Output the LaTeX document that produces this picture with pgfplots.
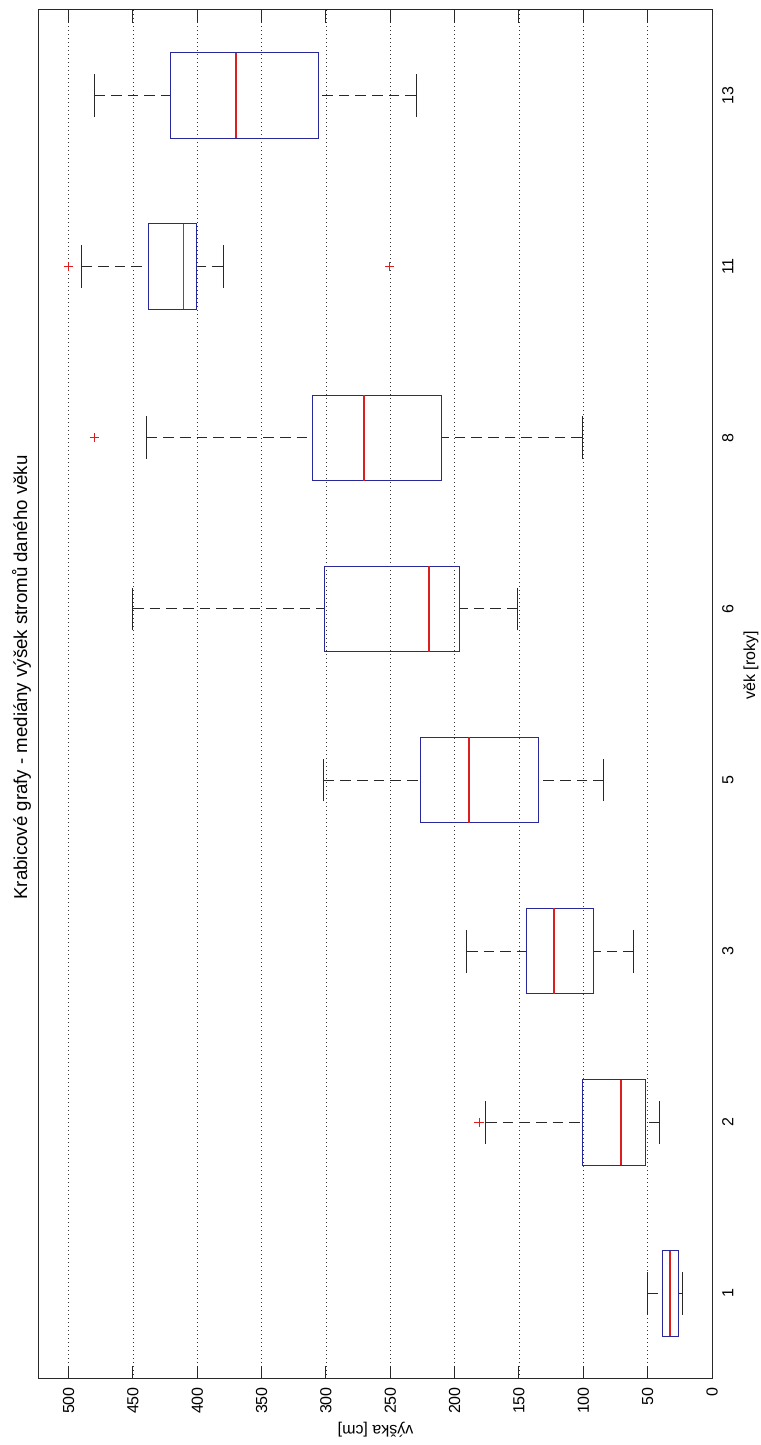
\documentclass[border=0pt,12pt]{standalone}
\usepackage{fontspec}
\setmainfont{Liberation Sans}
\usepackage{pgfplots}
\pgfplotsset{compat=1.18}
\usepgfplotslibrary{statistics}
\definecolor{boxblue}{RGB}{40,40,155}
\definecolor{medred}{RGB}{220,30,30}
\definecolor{axgray}{RGB}{40,40,40}
\begin{document}
\begin{tikzpicture}
\begin{axis}[
  scale only axis, width=504.75pt, height=1026.75pt,
  xmin=0, xmax=523, ymin=0.5, ymax=8.5,
  x dir=reverse,
  xtick={0,50,...,500},
  ytick={1,...,8},
  yticklabels={1,2,3,5,6,8,11,13},
  yticklabel pos=right,
  ytick style={draw=none},
  major tick length=10pt,
  tick align=inside,
  xticklabel style={rotate=90, anchor=east},
  yticklabel style={rotate=90, anchor=north},
  xticklabel shift=2pt, yticklabel shift=3.5pt,
  xmajorgrids,
  grid style={dash pattern=on 0.75pt off 2.25pt, black!80},
  axis line style={axgray, line width=0.75pt},
  tick style={axgray, line width=0.75pt},
  /pgf/number format/assume math mode=true,
  boxplot/draw direction=x,
  boxplot/box extend=0.5,
  boxplot/whisker extend=0.25,
  boxplot/every box/.style={draw=boxblue, line width=0.75pt},
  boxplot/draw/median/.code={%
    \draw[medred, line width=1.25pt]
      (boxplot box cs:\pgfplotsboxplotvalue{median},0) --
      (boxplot box cs:\pgfplotsboxplotvalue{median},1);
  },
  boxplot/draw/lower whisker/.code={%
    \draw[axgray, line width=0.75pt, dash pattern=on 8pt off 4.5pt]
      (boxplot box cs:\pgfplotsboxplotvalue{lower whisker},0.5) --
      (boxplot box cs:\pgfplotsboxplotvalue{lower quartile},0.5);
    \draw[axgray, line width=0.75pt]
      (boxplot whisker cs:\pgfplotsboxplotvalue{lower whisker},0) --
      (boxplot whisker cs:\pgfplotsboxplotvalue{lower whisker},1);
  },
  boxplot/draw/upper whisker/.code={%
    \draw[axgray, line width=0.75pt, dash pattern=on 8pt off 4.5pt]
      (boxplot box cs:\pgfplotsboxplotvalue{upper whisker},0.5) --
      (boxplot box cs:\pgfplotsboxplotvalue{upper quartile},0.5);
    \draw[axgray, line width=0.75pt]
      (boxplot whisker cs:\pgfplotsboxplotvalue{upper whisker},0) --
      (boxplot whisker cs:\pgfplotsboxplotvalue{upper whisker},1);
  },
]
% věk 1
\addplot[boxplot prepared={draw position=1, median=32.7, upper quartile=38.1, lower quartile=25.7, upper whisker=50.5, lower whisker=22.6}] coordinates {};
% věk 2
\addplot[boxplot prepared={draw position=2, median=70.8, upper quartile=101, lower quartile=51.3, upper whisker=175.7, lower whisker=41}] coordinates {};
% věk 3
\addplot[boxplot prepared={draw position=3, median=122.9, upper quartile=143.9, lower quartile=91.8, upper whisker=190.5, lower whisker=60.7}] coordinates {};
% věk 5
\addplot[boxplot prepared={draw position=4, median=189, upper quartile=226.3, lower quartile=134.5, upper whisker=301.7, lower whisker=84}] coordinates {};
% věk 6
\addplot[boxplot prepared={draw position=5, median=220, upper quartile=301, lower quartile=196, upper whisker=450, lower whisker=151}] coordinates {};
% věk 8
\addplot[boxplot prepared={draw position=6, median=270.6, upper quartile=310.3, lower quartile=210, upper whisker=439.4, lower whisker=101}] coordinates {};
% věk 11
\addplot[boxplot prepared={draw position=7, median=410.6, upper quartile=437.8, lower quartile=400.5, upper whisker=490, lower whisker=380}] coordinates {};
% věk 13
\addplot[boxplot prepared={draw position=8, median=370, upper quartile=420.7, lower quartile=305.6, upper whisker=480, lower whisker=230}] coordinates {};
% odlehlé hodnoty
\addplot[only marks, mark=+, medred, mark size=3.5pt, line width=0.85pt] coordinates {(181,2) (480,6) (500,7) (250.4,7)};
\end{axis}
\node[rotate=90, anchor=base, font=\fontsize{14}{17}\selectfont] at ([shift={(-9pt,12.75pt)}]current axis.west) {Krabicové grafy - mediány výšek stromů daného věku};
\node[rotate=90, anchor=base] at ([shift={(32.25pt,22pt)}]current axis.east) {věk [roky]};
\node[rotate=180, anchor=base] at ([yshift=-34.9pt]current axis.south) {výška [cm]};
\pgfresetboundingbox
\path ([shift={(-29.25pt,-49.5pt)}]current axis.south west) rectangle ([shift={(36pt,7.5pt)}]current axis.north east);
\end{tikzpicture}
\end{document}
